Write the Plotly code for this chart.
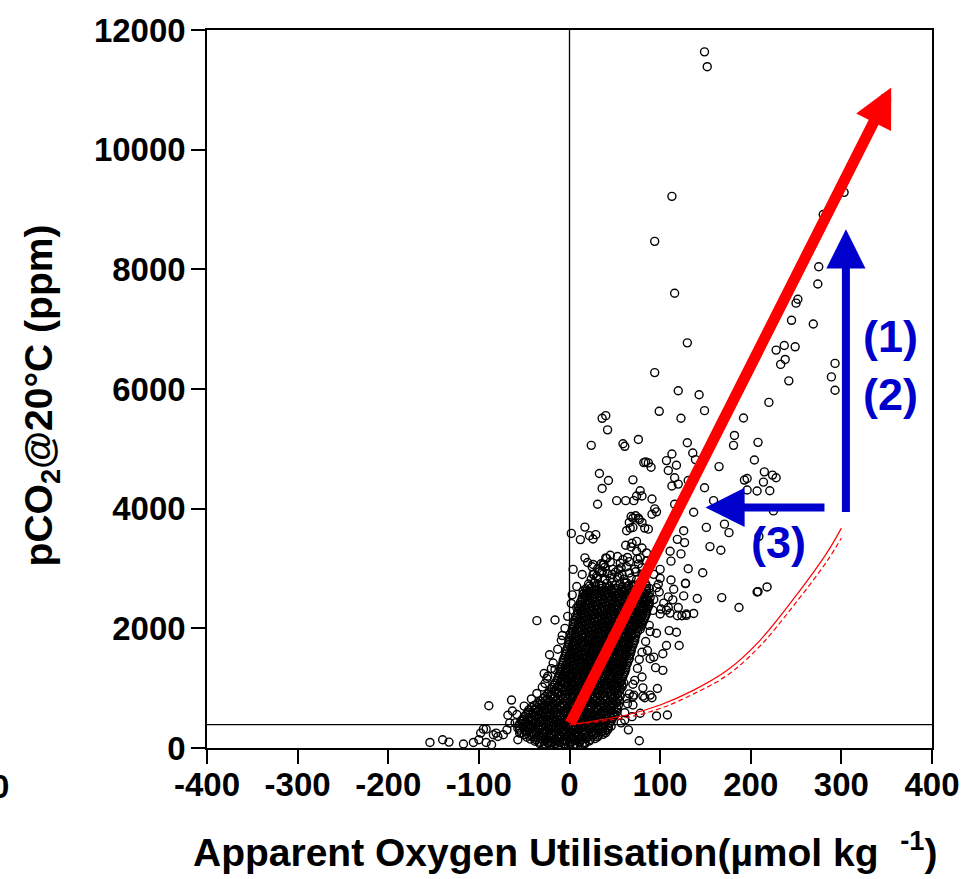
import plotly.graph_objects as go

# Sparse observations: apparent oxygen utilisation (umol/kg) and pCO2 at 20 C (ppm)
aou_sparse = [
    149, 152, 113, 94, 116, 130, 94, 120, 143, 149, 99, 123, 192, 220, 36, 40,
    303, 280, 275, 274, 252, 250, 245, 269, 237, 228, 249, 238, 233, 242, 293, 289, 293,
    208, 204, 215, 196, 193, 224, 228, 214, 196, 207, 221, 225, 209,
    42, 76, 59, 61, 24, 130, 182, 181, 136, 139, 113, 107, 118, 82, 84, 87, 90, 109, 165,
    33, 70, 43, 36, 116, 120, 113, 131, 78, 80, 74, 91, 149, 52, 62, 71, 31, 94, 96, 91,
    116, 137, 68, 70, 73, 76, 77, 66, 80, 70, 83, 87, 17, 2, 12, 22, 26, 29, 63, 67,
    74, 69, 62, 68, 80, 74, 85, 126, 127, 119, 151, 171, 176, 155, 167, 111, 123, 45, 40,
    17, 4, 26, 25, 33, 26, 27, 38, 112, 112, 131, 147, 128, 100, 98, 99, 115, 126, 109,
    168, 207, 15, 20, 42, 159, 141, 187, 208, 218, 104, 114, 109, 100, 120, 124, 129, 137,
    89, 96, 110, 118, 107, 121, 103, 89, 93, 86, 103, 97, 96, 108, 77, 65, 80, 70, 81,
    91, 83, 70, 70, 78, 69, 61, 128,
    -154, -140, -133, -117, -106, -100, -92, -86, -98, -95, -92, -81, -79, -84, -89, -73,
    -69, -66, -68, -63, -64, -55, -57, -48, -51, -36, -28, -25, -27, -20, -38, -36, -16,
    -22, -8, -16, -24, -14, 2, 30, 37, 36, 55, 8, 12, 15, 19,
    129, 119, 111, 107, 101, 95, 89, 81, 71, 63, 47, 54, 59, 78, 85, 63, 70, 96, 93, 100,
    57, 61, 64, 66, 72, 75, 77, 80, 84, 88, 92, 93,
    -60, -58, -50, -42, -30, -24, -18, -13, -9, -5, -2, 3, 8, 14, 20,
]
pco2_sparse = [
    11635, 11387, 9220, 8468, 7600, 6771, 6274, 5970, 5904, 5638, 5627, 5511, 5516, 5776, 5510, 5555,
    9287, 8916, 8043, 7755, 7500, 7435, 7148, 7086, 6727, 6650, 6705, 6494, 6411, 6136, 6428, 6202, 5980,
    5108, 4814, 4615, 4504, 4478, 4561, 4516, 4444, 4312, 4295, 4300, 3963, 3537,
    5317, 5157, 5085, 5042, 5058, 5101, 5224, 5058, 4930, 4820, 4914, 4803, 4726, 4770, 4781, 4765, 4693, 4637, 4703,
    4588, 4482, 4471, 4338, 4516, 4411, 4378, 4471, 4300, 4212, 4212, 4162, 4350, 4134, 4134, 4134, 4073, 3997, 3947, 3907,
    4073, 3940, 3869, 3841, 3881, 3841, 3814, 3770, 3770, 3687, 3675, 3658, 3692, 3587, 3483, 3549, 3493, 3566, 3632, 3675,
    3454, 3421, 3388, 3360, 3343, 3289, 3260, 3632, 3433, 3487, 3687, 3741, 3599, 3366, 3305, 3289, 3244, 3222, 3178,
    3178, 2985, 3068, 3028, 2945, 2902, 2758, 3068, 3123, 2807, 2995, 2929, 2753, 2836, 2736, 2608, 2653, 2542, 2525,
    2514, 2608, 2625, 2570, 2597, 4134, 2498, 2349, 2614, 2692, 2421, 2476, 2349, 2239, 2349, 2211, 2239, 2249,
    1945, 1917, 1962, 1934, 1713, 1713, 1575, 1492, 1519, 1630, 1298, 995, 536, 552, 121, 303, 1187, 1066, 1005,
    839, 839, 856, 718, 580, 524, 469, 2747,
    93, 138, 99, 66, 93, 138, 93, 55, 249, 315, 315, 249, 192, 221, 707, 221,
    304, 415, 547, 619, 801, 249, 138, 358, 469, 912, 1244, 1161, 1078, 1327, 635, 2128, 2139,
    1559, 1879, 1310, 83, 110, 2415, 2874, 3068, 2957, 2874, 2349, 2294, 2570, 2625,
    2216, 2211, 2255, 2305, 2322, 1343, 884, 867, 884, 829, 2902, 2985, 3151, 3178, 3123, 2763, 2708, 2680, 2902, 2985,
    420, 590, 740, 905, 1130, 1330, 1480, 1600, 1780, 2050, 2300, 2480,
    420, 560, 700, 820, 1020, 1200, 1420, 1650, 1800, 2000, 2200, 2560, 2700, 2900, 3100,
]

# Dense core of the distribution, first set of rows (low to high pCO2)
aou_core = [
    -28, -22, -17, -12, -6, -1, 4, 9, 14,
    -38, -33, -27, -21, -16, -11, -5, 0, 6, 11, 17, 22,
    -47, -41, -36, -30, -25, -19, -14, -8, -3, 3, 8, 14, 19, 25, 31,
    -53, -48, -42, -37, -31, -26, -20, -15, -9, -4, 2, 7, 13, 18, 24, 29, 35, 40,
    -57, -51, -45, -40, -34, -29, -23, -18, -12, -7, -1, 4, 10, 15, 21, 26, 32, 37, 43,
    -55, -50, -44, -39, -33, -28, -22, -17, -11, -6, 0, 5, 11, 16, 22, 27, 33, 38, 44,
    -52, -46, -41, -35, -30, -24, -19, -13, -8, -2, 3, 9, 14, 20, 25, 31, 36, 42, 47,
    -48, -43, -37, -32, -26, -21, -15, -10, -4, 1, 7, 12, 18, 23, 29, 34, 40, 45, 50,
    -45, -39, -34, -28, -23, -17, -12, -6, -1, 5, 10, 16, 21, 27, 32, 38, 43, 49, 53,
    -39, -33, -28, -22, -17, -11, -6, 0, 5, 11, 16, 22, 27, 33, 38, 44, 49, 54,
    -32, -26, -21, -15, -10, -4, 1, 7, 12, 18, 23, 29, 34, 40, 45, 51, 55,
    -27, -21, -16, -10, -5, 1, 6, 12, 17, 23, 28, 34, 39, 45, 50, 56,
    -22, -17, -11, -6, 0, 5, 11, 16, 22, 27, 33, 38, 44, 49, 55,
    -19, -13, -8, -2, 3, 9, 14, 20, 25, 31, 36, 42, 47, 53, 58,
    -16, -10, -5, 1, 6, 12, 17, 23, 28, 34, 39, 45, 50, 56, 60,
    -13, -8, -2, 3, 9, 14, 20, 25, 31, 36, 42, 47, 53, 58,
    -11, -6, 0, 5, 11, 16, 22, 27, 33, 38, 44, 49, 55, 60,
    -10, -4, 1, 7, 12, 18, 23, 29, 34, 40, 45, 51, 56, 62,
    -8, -3, 3, 8, 14, 19, 25, 30, 36, 41, 47, 52, 58, 63,
    -7, -1, 4, 10, 15, 21, 26, 32, 37, 43, 48, 54, 59, 65,
    -5, 0, 6, 11, 17, 22, 28, 33, 39, 44, 50, 55, 61, 66,
    -4, 2, 7, 13, 18, 24, 29, 35, 40, 46, 51, 57, 62, 68,
    -2, 3, 9, 14, 20, 25, 31, 36, 42, 47, 53, 58, 64, 69,
    -1, 5, 10, 16, 21, 27, 32, 38, 43, 49, 54, 60, 65, 71,
    0, 6, 11, 17, 22, 28, 33, 39, 44, 50, 55, 61, 66, 72,
    1, 7, 13, 18, 24, 29, 35, 40, 46, 51, 57, 62, 68, 73,
    3, 8, 14, 19, 25, 30, 36, 41, 47, 52, 58, 63, 69, 74, 78,
    4, 10, 15, 21, 26, 32, 37, 43, 48, 54, 59, 65, 70, 76, 80,
    6, 11, 17, 22, 28, 33, 39, 44, 50, 55, 61, 66, 72, 77, 82,
    7, 13, 18, 24, 29, 35, 40, 46, 51, 57, 62, 68, 73, 79, 84,
    9, 14, 20, 25, 31, 36, 42, 47, 53, 58, 64, 69, 75, 80, 85,
    10, 16, 21, 27, 32, 38, 43, 49, 54, 60, 65, 71, 76, 82, 87,
    12, 17, 23, 28, 34, 39, 45, 50, 56, 61, 67, 72, 78, 83, 88,
    14, 19, 25, 30, 36, 41, 47, 52, 58, 63, 69, 74, 80, 85, 89,
    16, 21, 27, 32, 38, 43, 49, 54, 60, 65, 71, 76, 82, 88,
    18, 24, 29, 35, 40, 46, 51, 57, 62, 68, 73, 79, 84, 88,
    21, 28, 33, 41, 47, 56, 61, 70, 77, 84,
    24, 31, 39, 45, 53, 60, 68, 74, 82,
    27, 36, 42, 51, 58, 66, 73, 80,
    31, 39, 48, 57, 63, 72, 80,
    35, 45, 56, 66, 76,
    41, 53, 64, 75,
]
pco2_core = [
    38, 52, 30, 45, 60, 35, 48, 28, 55,
    112, 98, 120, 105, 128, 95, 115, 102, 125, 108, 92, 118,
    180, 195, 172, 190, 178, 200, 168, 186, 194, 175, 190, 182, 170, 198, 185,
    255, 270, 248, 265, 258, 275, 250, 262, 272, 245, 268, 256, 278, 250, 266, 252, 270, 258,
    330, 342, 325, 348, 335, 320, 345, 330, 352, 326, 340, 332, 318, 346, 335, 328, 344, 322, 338,
    405, 418, 398, 412, 425, 402, 415, 395, 420, 408, 400, 422, 410, 396, 416, 404, 424, 400, 414,
    480, 492, 475, 498, 485, 470, 490, 482, 500, 476, 488, 472, 495, 484, 478, 492, 470, 486, 498,
    555, 570, 548, 562, 575, 552, 566, 545, 572, 558, 550, 568, 556, 575, 548, 563, 552, 570, 558,
    635, 648, 628, 642, 655, 632, 645, 625, 650, 638, 660, 630, 646, 636, 652, 628, 644, 638, 650,
    710, 722, 705, 718, 730, 700, 715, 726, 708, 720, 702, 716, 728, 712, 704, 724, 710, 718,
    785, 798, 780, 795, 805, 782, 792, 776, 800, 788, 778, 796, 784, 802, 790, 780, 794,
    860, 872, 855, 868, 880, 858, 874, 850, 866, 878, 856, 870, 862, 875, 858, 868,
    935, 948, 930, 945, 955, 932, 942, 928, 950, 938, 952, 930, 944, 936, 948,
    1010, 1025, 1005, 1020, 1030, 1008, 1018, 1002, 1026, 1012, 1022, 1006, 1028, 1014, 1020,
    1085, 1098, 1080, 1095, 1102, 1082, 1092, 1076, 1100, 1088, 1078, 1096, 1084, 1092, 1086,
    1160, 1172, 1155, 1168, 1178, 1158, 1170, 1150, 1175, 1162, 1152, 1170, 1160, 1168,
    1235, 1248, 1230, 1245, 1252, 1232, 1242, 1228, 1250, 1238, 1228, 1246, 1236, 1244,
    1310, 1322, 1305, 1318, 1328, 1308, 1320, 1302, 1325, 1312, 1304, 1322, 1310, 1318,
    1385, 1398, 1380, 1395, 1402, 1382, 1394, 1376, 1400, 1388, 1378, 1396, 1384, 1392,
    1460, 1472, 1455, 1468, 1478, 1458, 1470, 1450, 1475, 1462, 1452, 1470, 1460, 1468,
    1535, 1548, 1530, 1545, 1552, 1532, 1542, 1528, 1550, 1538, 1528, 1546, 1536, 1544,
    1610, 1622, 1605, 1618, 1628, 1608, 1620, 1602, 1625, 1612, 1604, 1622, 1610, 1618,
    1685, 1698, 1680, 1695, 1702, 1682, 1694, 1676, 1700, 1688, 1678, 1696, 1684, 1692,
    1760, 1772, 1755, 1768, 1778, 1758, 1770, 1750, 1775, 1762, 1752, 1770, 1760, 1768,
    1835, 1848, 1830, 1845, 1852, 1832, 1842, 1828, 1850, 1838, 1828, 1846, 1836, 1844,
    1910, 1922, 1905, 1918, 1928, 1908, 1920, 1902, 1925, 1912, 1904, 1922, 1910, 1918,
    1985, 1998, 1980, 1995, 2002, 1982, 1994, 1976, 2000, 1988, 1978, 1996, 1984, 1992, 1986,
    2060, 2072, 2055, 2068, 2078, 2058, 2070, 2050, 2075, 2062, 2052, 2070, 2060, 2068, 2064,
    2135, 2148, 2130, 2145, 2152, 2132, 2142, 2128, 2150, 2138, 2128, 2146, 2136, 2144, 2140,
    2210, 2222, 2205, 2218, 2228, 2208, 2220, 2202, 2225, 2212, 2204, 2222, 2210, 2218, 2214,
    2285, 2298, 2280, 2295, 2302, 2282, 2294, 2276, 2300, 2288, 2278, 2296, 2284, 2292, 2290,
    2360, 2372, 2355, 2368, 2378, 2358, 2370, 2350, 2375, 2362, 2352, 2370, 2360, 2368, 2364,
    2435, 2448, 2430, 2445, 2452, 2432, 2442, 2428, 2450, 2438, 2428, 2446, 2436, 2444, 2440,
    2510, 2522, 2505, 2518, 2528, 2508, 2520, 2502, 2525, 2512, 2504, 2522, 2510, 2518, 2514,
    2585, 2598, 2580, 2595, 2602, 2582, 2594, 2576, 2600, 2588, 2578, 2596, 2584, 2592,
    2660, 2672, 2655, 2668, 2678, 2658, 2670, 2650, 2675, 2662, 2652, 2670, 2660, 2668,
    2740, 2760, 2730, 2752, 2765, 2735, 2758, 2728, 2750, 2745,
    2825, 2848, 2815, 2838, 2855, 2822, 2840, 2812, 2836,
    2905, 2930, 2915, 2940, 2900, 2925, 2945, 2910,
    2995, 3020, 2985, 3010, 3030, 2990, 3015,
    3080, 3110, 3090, 3115, 3075,
    3170, 3200, 3185, 3160,
]

# Dense core, second set of rows lying between the first ones
aou_core_mid = [
    -33, -27, -22, -16, -11, -5, 0, 6, 11, 17,
    -43, -37, -32, -26, -21, -15, -10, -4, 1, 7, 12, 18, 23, 28,
    -50, -45, -39, -34, -28, -23, -17, -12, -6, -1, 5, 10, 16, 21, 27, 32, 37,
    -55, -49, -44, -38, -33, -27, -22, -16, -11, -5, 0, 6, 11, 17, 22, 28, 33, 39, 42,
    -56, -51, -45, -40, -34, -29, -23, -18, -12, -7, -1, 4, 10, 15, 21, 26, 32, 37, 43, 46,
    -53, -48, -42, -37, -31, -26, -20, -15, -9, -4, 2, 7, 13, 18, 24, 29, 35, 40, 46,
    -50, -44, -39, -33, -28, -22, -17, -11, -6, 0, 5, 11, 16, 22, 27, 33, 38, 44, 49,
    -46, -40, -35, -29, -24, -18, -13, -7, -2, 4, 9, 15, 20, 26, 31, 37, 42, 48, 52,
    -42, -36, -31, -25, -20, -14, -9, -3, 2, 8, 13, 19, 24, 30, 35, 41, 46, 52,
    -35, -30, -24, -19, -13, -8, -2, 3, 9, 14, 20, 25, 31, 36, 42, 47, 52,
    -29, -24, -18, -13, -7, -2, 4, 9, 15, 20, 26, 31, 37, 42, 48, 53,
    -24, -19, -13, -8, -2, 3, 9, 14, 20, 25, 31, 36, 42, 47, 53,
    -20, -15, -9, -4, 2, 7, 13, 18, 24, 29, 35, 40, 46, 51, 56,
    -17, -12, -6, -1, 5, 10, 16, 21, 27, 32, 38, 43, 49, 54, 58,
    -14, -9, -3, 2, 8, 13, 19, 24, 30, 35, 41, 46, 52, 57,
    -12, -7, -1, 4, 10, 15, 21, 26, 32, 37, 43, 48, 54, 59,
    -10, -5, 1, 6, 12, 17, 23, 28, 34, 39, 45, 50, 56, 61,
    -9, -3, 2, 8, 13, 19, 24, 30, 35, 41, 46, 52, 57, 62,
    -7, -2, 4, 9, 15, 20, 26, 31, 37, 42, 48, 53, 59, 64,
    -6, 0, 5, 11, 16, 22, 27, 33, 38, 44, 49, 55, 60, 66,
    -4, 1, 7, 12, 18, 23, 29, 34, 40, 45, 51, 56, 62, 67,
    -3, 3, 8, 14, 19, 25, 30, 36, 41, 47, 52, 58, 63, 68,
    -1, 4, 10, 15, 21, 26, 32, 37, 43, 48, 54, 59, 65, 70,
    0, 6, 11, 17, 22, 28, 33, 39, 44, 50, 55, 61, 66, 72,
    2, 7, 13, 18, 24, 29, 35, 40, 46, 51, 57, 62, 68, 73,
    3, 9, 14, 20, 25, 31, 36, 42, 47, 53, 58, 64, 69, 75,
    5, 10, 16, 21, 27, 32, 38, 43, 49, 54, 60, 65, 71, 76, 79,
    6, 12, 17, 23, 28, 34, 39, 45, 50, 56, 61, 67, 72, 78, 81,
    8, 13, 19, 24, 30, 35, 41, 46, 52, 57, 63, 68, 74, 79, 83,
    9, 15, 20, 26, 31, 37, 42, 48, 53, 59, 64, 70, 75, 81, 85,
    11, 16, 22, 27, 33, 38, 44, 49, 55, 60, 66, 71, 77, 82, 86,
    12, 18, 23, 29, 34, 40, 45, 51, 56, 62, 67, 73, 78, 84, 88,
    14, 20, 25, 31, 36, 42, 47, 53, 58, 64, 69, 75, 80, 86,
    17, 22, 28, 33, 39, 44, 50, 55, 61, 66, 72, 77, 83, 87,
    19, 25, 30, 36, 41, 47, 52, 58, 63, 69, 74, 80, 85,
    22, 29, 36, 44, 51, 58, 65, 72, 79, 85,
]
pco2_core_mid = [
    75, 68, 82, 72, 88, 70, 78, 65, 85, 74,
    148, 140, 155, 145, 160, 138, 150, 142, 158, 146, 135, 152, 144, 156,
    222, 215, 230, 218, 228, 212, 225, 220, 232, 214, 226, 218, 230, 216, 224, 212, 228,
    298, 290, 305, 294, 302, 288, 300, 292, 308, 295, 286, 304, 296, 290, 302, 294, 306, 288, 300,
    372, 365, 380, 368, 378, 362, 375, 370, 382, 364, 376, 368, 380, 366, 374, 362, 378, 370, 372, 366,
    448, 440, 455, 444, 452, 438, 450, 442, 458, 446, 436, 454, 446, 440, 452, 444, 456, 438, 450,
    522, 515, 530, 518, 528, 512, 525, 520, 532, 514, 526, 518, 530, 516, 524, 512, 528, 520, 522,
    600, 592, 608, 596, 605, 590, 602, 594, 610, 598, 588, 606, 598, 592, 604, 596, 608, 590, 600,
    678, 670, 686, 674, 684, 668, 680, 672, 688, 676, 666, 684, 676, 670, 682, 674, 686, 668,
    752, 745, 760, 748, 758, 742, 755, 750, 762, 744, 756, 748, 760, 746, 754, 742, 758,
    828, 820, 835, 824, 832, 818, 830, 822, 838, 826, 816, 834, 826, 820, 832, 824,
    902, 895, 910, 898, 908, 892, 905, 900, 912, 894, 906, 898, 910, 896, 904,
    978, 970, 986, 974, 984, 968, 980, 972, 988, 976, 966, 984, 976, 970, 982,
    1052, 1045, 1060, 1048, 1058, 1042, 1055, 1050, 1062, 1044, 1056, 1048, 1060, 1046, 1054,
    1128, 1120, 1135, 1124, 1132, 1118, 1130, 1122, 1138, 1126, 1116, 1134, 1126, 1120,
    1202, 1195, 1210, 1198, 1208, 1192, 1205, 1200, 1212, 1194, 1206, 1198, 1210, 1196,
    1278, 1270, 1285, 1274, 1282, 1268, 1280, 1272, 1288, 1276, 1266, 1284, 1276, 1270,
    1352, 1345, 1360, 1348, 1358, 1342, 1355, 1350, 1362, 1344, 1356, 1348, 1360, 1346,
    1428, 1420, 1435, 1424, 1432, 1418, 1430, 1422, 1438, 1426, 1416, 1434, 1426, 1420,
    1502, 1495, 1510, 1498, 1508, 1492, 1505, 1500, 1512, 1494, 1506, 1498, 1510, 1496,
    1578, 1570, 1585, 1574, 1582, 1568, 1580, 1572, 1588, 1576, 1566, 1584, 1576, 1570,
    1652, 1645, 1660, 1648, 1658, 1642, 1655, 1650, 1662, 1644, 1656, 1648, 1660, 1646,
    1728, 1720, 1735, 1724, 1732, 1718, 1730, 1722, 1738, 1726, 1716, 1734, 1726, 1720,
    1802, 1795, 1810, 1798, 1808, 1792, 1805, 1800, 1812, 1794, 1806, 1798, 1810, 1796,
    1878, 1870, 1885, 1874, 1882, 1868, 1880, 1872, 1888, 1876, 1866, 1884, 1876, 1870,
    1952, 1945, 1960, 1948, 1958, 1942, 1955, 1950, 1962, 1944, 1956, 1948, 1960, 1946,
    2028, 2020, 2035, 2024, 2032, 2018, 2030, 2022, 2038, 2026, 2016, 2034, 2026, 2020, 2030,
    2102, 2095, 2110, 2098, 2108, 2092, 2105, 2100, 2112, 2094, 2106, 2098, 2110, 2096, 2104,
    2178, 2170, 2185, 2174, 2182, 2168, 2180, 2172, 2188, 2176, 2166, 2184, 2176, 2170, 2180,
    2252, 2245, 2260, 2248, 2258, 2242, 2255, 2250, 2262, 2244, 2256, 2248, 2260, 2246, 2254,
    2328, 2320, 2335, 2324, 2332, 2318, 2330, 2322, 2338, 2326, 2316, 2334, 2326, 2320, 2330,
    2402, 2395, 2410, 2398, 2408, 2392, 2405, 2400, 2412, 2394, 2406, 2398, 2410, 2396, 2404,
    2478, 2470, 2485, 2474, 2482, 2468, 2480, 2472, 2488, 2476, 2466, 2484, 2476, 2470,
    2552, 2545, 2560, 2548, 2558, 2542, 2555, 2550, 2562, 2544, 2556, 2548, 2560, 2546,
    2628, 2620, 2635, 2624, 2632, 2618, 2630, 2622, 2638, 2626, 2616, 2634, 2626,
    2705, 2695, 2712, 2700, 2718, 2690, 2708, 2698, 2715, 2702,
]

# Reference level of atmospheric pCO2
atm_pco2 = 390

# Red curves (solid and dashed)
curve_aou = [0, 63, 100, 137, 174, 210, 247, 284, 300]
curve_solid = [390, 552, 718, 967, 1299, 1796, 2487, 3261, 3675]
curve_dashed = [390, 510, 660, 905, 1215, 1700, 2375, 3120, 3510]

# Arrows: (tail_x, tail_y, head_x, head_y)
red_arrow = (0, 390, 355, 11040)
blue_up_arrow = (305, 3920, 305, 8670)
blue_left_arrow = (283, 4020, 150, 4020)

# Arrow labels
label_text = ["(1)", "(2)", "(3)"]
label_aou = [354, 354, 231]
label_pco2 = [6880, 5900, 3435]

x_ticks = [-400, -300, -200, -100, 0, 100, 200, 300, 400]
x_ticktext = ["-400", "-300", "-200", "-100", "0", "100", "200", "300", "400"]
y_ticks = [0, 2000, 4000, 6000, 8000, 10000, 12000]
y_ticktext = ["0", "2000", "4000", "6000", "8000", "10000", "12000"]

FONT = "Liberation Sans, Arial, Helvetica, sans-serif"
RED = "#ff0000"
BLUE = "#0000cc"

fig = go.Figure()

fig.add_trace(go.Scatter(
    x=aou_core + aou_core_mid + aou_sparse,
    y=pco2_core + pco2_core_mid + pco2_sparse,
    mode="markers",
    marker=dict(symbol="circle-open", size=8, color="black", line=dict(width=1.4)),
    hoverinfo="skip",
))

fig.add_trace(go.Scatter(
    x=curve_aou, y=curve_solid, mode="lines",
    line=dict(color=RED, width=1.2, shape="spline", smoothing=1.0), hoverinfo="skip",
))
fig.add_trace(go.Scatter(
    x=curve_aou, y=curve_dashed, mode="lines",
    line=dict(color=RED, width=1.2, dash="5px,3px", shape="spline", smoothing=1.0),
    hoverinfo="skip",
))

# Reference lines at zero AOU and atmospheric pCO2
fig.add_shape(type="line", x0=0, x1=0, y0=0, y1=12000, xref="x", yref="y",
              line=dict(color="black", width=1.3), layer="below")
fig.add_shape(type="line", x0=-400, x1=400, y0=atm_pco2, y1=atm_pco2, xref="x", yref="y",
              line=dict(color="black", width=1.3), layer="below")


def arrow(spec, color, width, size):
    tx, ty, hx, hy = spec
    return dict(
        x=hx, y=hy, ax=tx, ay=ty, xref="x", yref="y", axref="x", ayref="y",
        text="", showarrow=True, arrowhead=2, arrowsize=size, arrowwidth=width,
        arrowcolor=color, standoff=0,
    )


annotations = [
    arrow(red_arrow, RED, 11, 0.71),
    arrow(blue_up_arrow, BLUE, 8, 0.98),
    arrow(blue_left_arrow, BLUE, 8, 0.98),
]
for t, xa, ya in zip(label_text, label_aou, label_pco2):
    annotations.append(dict(
        x=xa, y=ya, xref="x", yref="y", text=t, showarrow=False,
        xanchor="center", yanchor="middle",
        font=dict(family=FONT, size=45, color=BLUE, weight="bold"),
    ))

# Axis titles
annotations.append(dict(
    x=0.495, y=-0.142, xref="paper", yref="paper",
    text="Apparent Oxygen Utilisation(µmol kg\u00a0\u00a0<sup>-1</sup>)",
    showarrow=False, xanchor="center", yanchor="middle",
    font=dict(family=FONT, size=39, color="black", weight="bold"),
))
annotations.append(dict(
    x=-0.229, y=0.491, xref="paper", yref="paper",
    text="pCO<sub>2</sub>@20°C (ppm)", textangle=-90,
    showarrow=False, xanchor="center", yanchor="middle",
    font=dict(family=FONT, size=39, color="black", weight="bold"),
))
# Edge of the neighbouring panel's tick label
annotations.append(dict(
    x=-0.2855, y=-0.054, xref="paper", yref="paper", text="0",
    showarrow=False, xanchor="center", yanchor="middle",
    font=dict(family=FONT, size=33, color="black", weight="bold"),
))

axis_common = dict(
    showline=True, linecolor="black", linewidth=1.5, mirror=True,
    ticks="outside", ticklen=14, tickwidth=1.5, tickcolor="black",
    showgrid=False, zeroline=False,
    tickfont=dict(family=FONT, size=33, color="black", weight="bold"),
)

fig.update_layout(
    width=974, height=879,
    margin=dict(l=207, r=42, t=25, b=131),
    paper_bgcolor="white", plot_bgcolor="white",
    showlegend=False,
    xaxis=dict(range=[-400, 400], tickvals=x_ticks, ticktext=x_ticktext,
               ticklabelstandoff=-7, **axis_common),
    yaxis=dict(range=[0, 12000], tickvals=y_ticks, ticktext=y_ticktext,
               ticklabelstandoff=-1, **axis_common),
    annotations=annotations,
)

fig.write_html("out.html")
